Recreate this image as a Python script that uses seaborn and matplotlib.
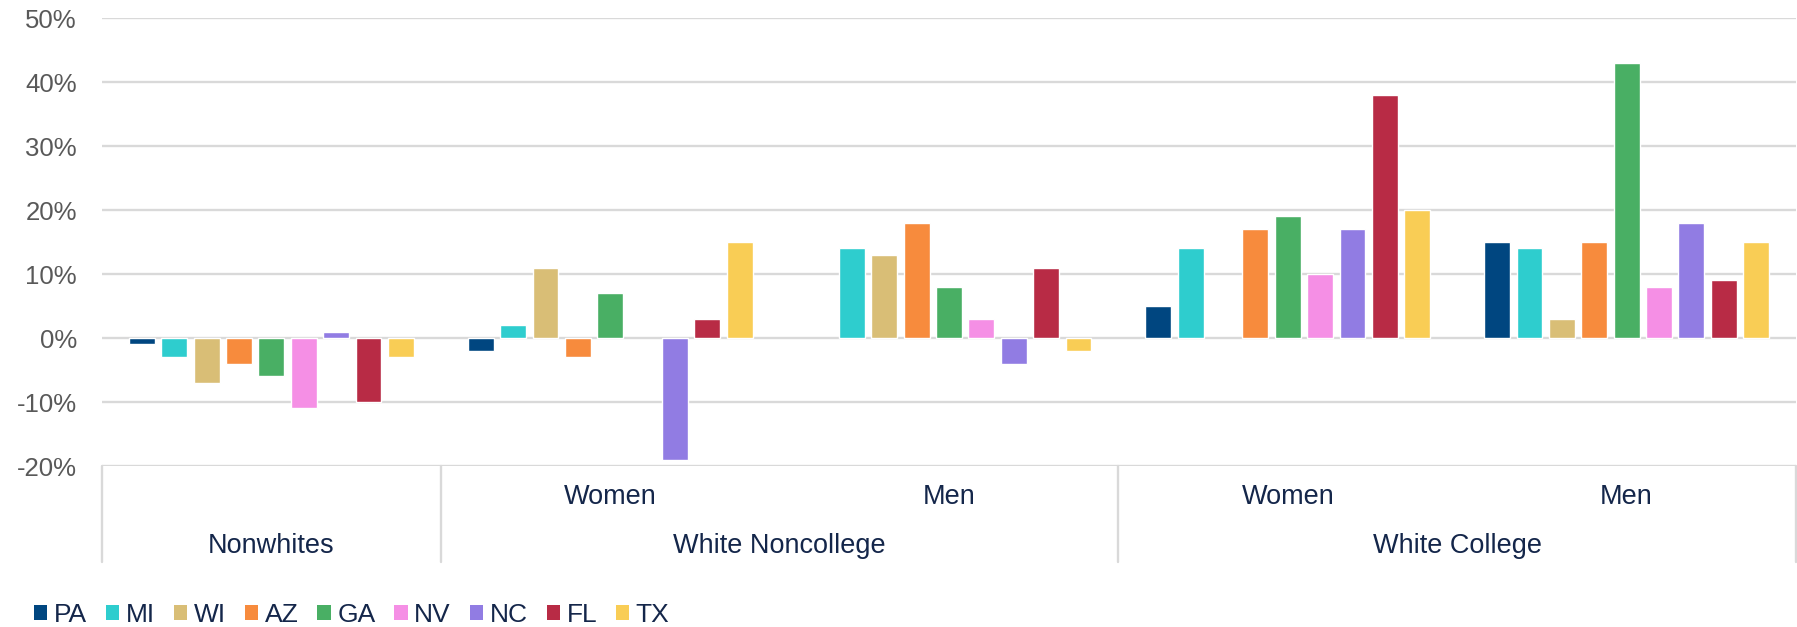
import numpy as np
import pandas as pd
import matplotlib
matplotlib.use("Agg")
import matplotlib.pyplot as plt
import matplotlib.transforms as mtransforms
from matplotlib.ticker import FuncFormatter
import seaborn as sns

# ---------------- data ----------------
states = ["PA", "MI", "WI", "AZ", "GA", "NV", "NC", "FL", "TX"]
keys = ["Nonwhites", "WNC Women", "WNC Men", "WC Women", "WC Men"]
sub_labels = ["", "Women", "Men", "Women", "Men"]
group_labels = ["Nonwhites", "White Noncollege", "White College"]
group_centers = [0, 1.5, 3.5]

nonwhites = [-1, -3, -7, -4, -6, -11, 1, -10, -3]
wnc_women = [-2, 2, 11, -3, 7, np.nan, -19, 3, 15]
wnc_men = [np.nan, 14, 13, 18, 8, 3, -4, 11, -2]
wc_women = [5, 14, np.nan, 17, 19, 10, 17, 38, 20]
wc_men = [15, 14, 3, 15, 43, 8, 18, 9, 15]

colors = ["#004680", "#2ECDCE", "#D9BE76", "#F78B3D", "#49AF64",
          "#F58FE5", "#917CE3", "#B82B45", "#F9CD55"]

yticks = [-20, -10, 0, 10, 20, 30, 40, 50]

series = [nonwhites, wnc_women, wnc_men, wc_women, wc_men]
rows = []
for k, vals in zip(keys, series):
    for s, v in zip(states, vals):
        rows.append({"cat": k, "state": s, "val": v})
df = pd.DataFrame(rows)

# ---------------- style ----------------
sns.set_style("white")
plt.rcParams["font.family"] = ["Liberation Sans", "DejaVu Sans"]
text_color = "#14264A"
grid_color = "#D9D9D9"
tick_fs = 18.5
cat_fs = 19.5
leg_fs = 19

fig = plt.figure(figsize=(17.97, 6.27), dpi=100)
ax = fig.add_axes([102 / 1797, 1 - 466 / 627, (1796 - 102) / 1797, (466 - 18) / 627])

sns.barplot(data=df, x="cat", y="val", hue="state", order=keys, hue_order=states,
            palette=colors, saturation=1, width=0.86, gap=0.2, edgecolor="white",
            linewidth=1, errorbar=None, ax=ax, zorder=3)

ax.set_ylim(-20, 50)
ax.set_xlim(-0.5, 4.5)
ax.set_yticks(yticks)
ax.yaxis.set_major_formatter(FuncFormatter(lambda v, p: f"{int(v)}%"))
ax.tick_params(axis="y", length=0, pad=18, labelsize=tick_fs, labelcolor="#595959")
ax.set_xticks([])
ax.set_xlabel("")
ax.set_ylabel("")
for sp in ax.spines.values():
    sp.set_visible(False)
ax.yaxis.grid(True, color=grid_color, linewidth=1.7, zorder=0)
ax.set_axisbelow(True)

# category table below axis
trans = mtransforms.blended_transform_factory(ax.transData, ax.transAxes)
table_bottom = -(562 - 466) / 448
for xv in [-0.5, 0.5, 2.5, 4.5]:
    ax.plot([xv, xv], [0, table_bottom], color=grid_color, linewidth=1.7,
            transform=trans, clip_on=False)
for i, lab in enumerate(sub_labels):
    if lab:
        ax.text(i, -(497 - 466) / 448, lab, transform=trans, ha="center", va="center",
                fontsize=cat_fs, color=text_color)
for xc, lab in zip(group_centers, group_labels):
    ax.text(xc, -(546 - 466) / 448, lab, transform=trans, ha="center", va="center",
            fontsize=cat_fs, color=text_color)

# legend
sns.move_legend(ax, loc="center left", bbox_to_anchor=(34 / 1797, 1 - 615 / 627),
                bbox_transform=fig.transFigure, ncol=9, frameon=False, title=None,
                fontsize=leg_fs, handlelength=0.5, handleheight=0.5, handletextpad=0.25,
                columnspacing=0.72, borderpad=0, borderaxespad=0)
leg = ax.get_legend()
for t in leg.get_texts():
    t.set_color(text_color)
for h in leg.legend_handles:
    h.set_edgecolor("none")

fig.savefig("out.png", dpi=100)
